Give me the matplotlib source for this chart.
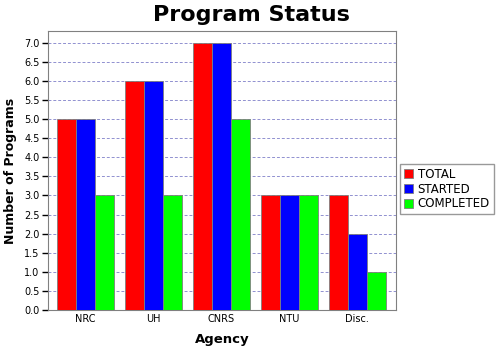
import numpy as np
import matplotlib.pyplot as plt

agencies = ["NRC", "UH", "CNRS", "NTU", "Disc."]
total = [5, 6, 7, 3, 3]
started = [5, 6, 7, 3, 2]
completed = [3, 3, 5, 3, 1]

series = [("TOTAL", total, "#ff0000"),
          ("STARTED", started, "#0000ff"),
          ("COMPLETED", completed, "#00ff00")]

fig = plt.figure(figsize=(5, 3.5), dpi=100)
ax = fig.add_axes([0.096, 0.114, 0.696, 0.797])

x = np.arange(len(agencies))
width = 0.28
for i, (name, vals, color) in enumerate(series):
    ax.bar(x + (i - 1) * width, vals, width, color=color, edgecolor="#808080",
           linewidth=0.6, label=name, zorder=3)

ax.set_xlim(-0.55, 4.57)
ax.set_ylim(0, 7.3)
ax.set_yticks(np.arange(0, 7.01, 0.5))
ax.set_yticklabels([f"{v:.1f}" for v in np.arange(0, 7.01, 0.5)])
ax.set_xticks(x)
ax.set_xticklabels(agencies)
ax.tick_params(axis="y", labelsize=7, length=4, width=1, direction="out", pad=2)
ax.tick_params(axis="x", labelsize=7, length=0, pad=3)
ax.grid(axis="y", color="#9090d0", linestyle=(0, (3, 2)), linewidth=0.7, zorder=0)
for s in ax.spines.values():
    s.set_color("#808080")

ax.set_xlabel("Agency", fontsize=9.5, fontweight="bold", labelpad=6)
ax.set_ylabel("Number of Programs", fontsize=9, fontweight="bold", labelpad=5)
fig.text(0.502, 0.957, "Program Status", ha="center", va="center",
         fontsize=16, fontweight="semibold")

fig.legend(loc="center left", bbox_to_anchor=(0.8, 0.46), fontsize=8.5,
           frameon=True, fancybox=False, edgecolor="#808080", handlelength=0.8,
           handleheight=0.8, handletextpad=0.4, borderpad=0.3, labelspacing=0.15,
           borderaxespad=0)

fig.savefig("out.png", dpi=100)
